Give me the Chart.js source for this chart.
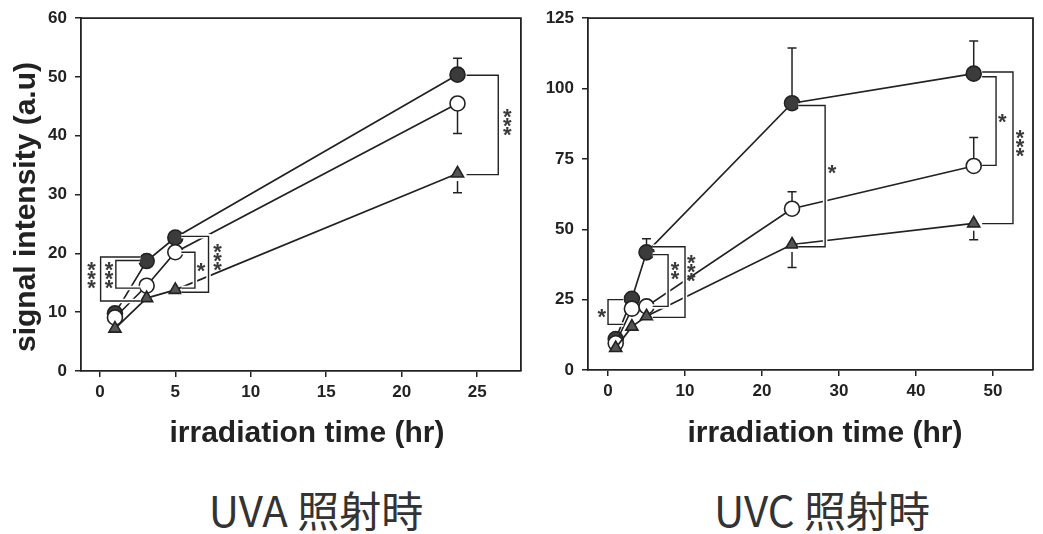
<!DOCTYPE html>
<html lang="ja">
<head>
<meta charset="UTF-8">
<title>signal intensity vs irradiation time</title>
<script src="https://cdn.jsdelivr.net/npm/chart.js"></script>
<style>
  body { margin:0; background:#fff; width:1043px; height:534px; position:relative; overflow:hidden; }
  .panel { position:absolute; top:0; height:460px; }
  #left { left:0; width:530px; }
  #right { left:530px; width:513px; }
  .caption { position:absolute; top:484px; width:300px; text-align:center;
    font-family:"Noto Sans CJK JP", sans-serif; font-size:42px; line-height:50px; color:#333; }
</style>
</head>
<body>
<div class="panel" id="left"><canvas id="uvaChart" width="530" height="460"></canvas></div>
<div class="panel" id="right"><canvas id="uvcChart" width="513" height="460"></canvas></div>
<div class="caption" style="left:166px">UVA 照射時</div>
<div class="caption" style="left:672px">UVC 照射時</div>

<script>
// ---- UVA panel ----
const uvaTime      = [1, 3.1, 5, 23.7];
const uvaFilled    = [9.8, 18.7, 22.7, 50.4];
const uvaOpen      = [9.1, 14.5, 20.2, 45.5];
const uvaTri       = [7.2, 12.4, 13.8, 33.6];
const uvaFilledErr = [null, null, null, 53.2];
const uvaOpenErr   = [null, null, null, 40.4];
const uvaTriErr    = [null, null, null, 30.3];
const uvaXTicks    = [0, 5, 10, 15, 20, 25];
const uvaYTicks    = [0, 10, 20, 30, 40, 50, 60];
// significance brackets: [x at points, x of vertical, y top, y bottom, stars, star x, star y]
const uvaBrackets = [
  [24.3, 26.4, 50.3, 33.4, '***', 27.0, 42.2],
  [5.4, 7.2, 22.9, 13.4, '***', 7.8, 19.3],
  [5.4, 6.3, 20.2, 14.1, '*', 6.7, 17.6],
  [2.7, 0.05, 19.4, 11.9, '***', -0.55, 16.3],
  [2.65, 1.06, 18.8, 14.1, '***', 0.6, 16.3]
];

// ---- UVC panel ----
const uvcTime      = [1, 3.1, 5, 23.9, 47.5];
const uvcFilled    = [11.0, 25.3, 41.8, 94.8, 105.3];
const uvcOpen      = [9.5, 21.8, 22.6, 57.3, 72.5];
const uvcTri       = [7.8, 15.4, 19.1, 44.6, 52.1];
const uvcFilledErr = [null, null, 46.6, 114.4, 116.9];
const uvcOpenErr   = [null, null, null, 63.3, 82.6];
const uvcTriErr    = [null, null, null, 36.4, 46.3];
const uvcXTicks    = [0, 10, 20, 30, 40, 50];
const uvcYTicks    = [0, 25, 50, 75, 100, 125];
const uvcBrackets = [
  [48.6, 50.4, 104.2, 72.7, '*', 51.2, 89.3],
  [48.6, 52.6, 105.9, 52.0, '***', 53.5, 80.5],
  [24.7, 28.2, 94.0, 43.8, '*', 29.1, 71.3],
  [5.8, 7.8, 41.0, 22.6, '**', 8.7, 35.0],
  [5.8, 10.0, 43.8, 18.7, '***', 10.8, 36.0],
  [2.0, 0.0, 25.0, 16.2, '*', -0.8, 20.0]
];

const xTitle = 'irradiation time (hr)';
const yTitle = 'signal intensity (a.u)';

const INK = '#222';
const R = 7.5;

// frame, error bars, brackets and titles
const annotPlugin = {
  id: 'annot',
  afterDatasetsDraw(chart, args, opts) {
    const ctx = chart.ctx, xs = chart.scales.x, ys = chart.scales.y, a = chart.chartArea;
    ctx.save();
    ctx.strokeStyle = INK;
    ctx.lineWidth = 1.8;
    ctx.beginPath();
    ctx.moveTo(a.left, a.top); ctx.lineTo(a.right, a.top); ctx.lineTo(a.right, a.bottom);
    ctx.stroke();

    // error bars (one-sided)
    ctx.lineWidth = 1.5;
    opts.errors.forEach(([vals, errs]) => {
      errs.forEach((e, i) => {
        if (e == null) return;
        const x = xs.getPixelForValue(opts.time[i]);
        const y = ys.getPixelForValue(vals[i]);
        const ye = ys.getPixelForValue(e);
        const dir = ye < y ? -1 : 1;
        ctx.beginPath();
        ctx.moveTo(x, y + dir * R); ctx.lineTo(x, ye);
        ctx.moveTo(x - 4.5, ye); ctx.lineTo(x + 4.5, ye);
        ctx.stroke();
      });
    });

    // brackets with white halo so data lines look broken where they cross
    opts.brackets.forEach(b => {
      const x0 = xs.getPixelForValue(b[0]), xv = xs.getPixelForValue(b[1]);
      const yt = ys.getPixelForValue(b[2]), yb = ys.getPixelForValue(b[3]);
      const path = () => {
        ctx.beginPath();
        ctx.moveTo(x0, yt); ctx.lineTo(xv, yt); ctx.lineTo(xv, yb); ctx.lineTo(x0, yb);
      };
      ctx.strokeStyle = '#fff'; ctx.lineWidth = 4.5; path(); ctx.stroke();
      ctx.strokeStyle = INK; ctx.lineWidth = 1.4; path(); ctx.stroke();
    });

    // stars, stacked vertically
    ctx.fillStyle = '#3a3a3a';
    ctx.font = 'bold 22px "Liberation Sans", Arial, sans-serif';
    ctx.textAlign = 'center';
    ctx.textBaseline = 'alphabetic';
    const m = ctx.measureText('*');
    const shift = (m.actualBoundingBoxAscent - m.actualBoundingBoxDescent) / 2;
    opts.brackets.forEach(b => {
      const n = b[4].length;
      const cx = xs.getPixelForValue(b[5]);
      const cy = ys.getPixelForValue(b[6]);
      for (let i = 0; i < n; i++) {
        ctx.fillText('*', cx, cy + (i - (n - 1) / 2) * 9 + shift);
      }
    });

    // axis titles
    ctx.fillStyle = INK;
    ctx.font = 'bold 30px "Liberation Sans", Arial, sans-serif';
    ctx.fillText(xTitle, opts.xTitlePos[0], opts.xTitlePos[1]);
    if (opts.yTitlePos) {
      ctx.translate(opts.yTitlePos[0], opts.yTitlePos[1]);
      ctx.rotate(-Math.PI / 2);
      ctx.textBaseline = 'middle';
      ctx.fillText(yTitle, 0, 0);
    }
    ctx.restore();
  }
};

function series(time, vals, style) {
  const base = {
    data: time.map((t, i) => ({ x: t, y: vals[i] })),
    showLine: true, tension: 0,
    borderColor: INK, borderWidth: 1.7,
    pointRadius: R, pointBorderWidth: 1.6, pointBorderColor: INK
  };
  if (style === 'filled') return Object.assign(base, { pointStyle: 'circle', pointBackgroundColor: '#3b3b3b' });
  if (style === 'open') return Object.assign(base, { pointStyle: 'circle', pointBackgroundColor: '#fff' });
  return Object.assign(base, { pointStyle: 'triangle', pointRadius: 7, pointBackgroundColor: '#555' });
}

function makeChart(id, p) {
  const tickFont = { family: '"Liberation Sans", Arial, sans-serif', weight: 'bold', size: 17 };
  return new Chart(document.getElementById(id), {
    type: 'scatter',
    data: {
      // drawn last-to-first: filled, open, triangle on top
      datasets: [
        series(p.time, p.tri, 'tri'),
        series(p.time, p.open, 'open'),
        series(p.time, p.filled, 'filled')
      ]
    },
    options: {
      responsive: false,
      animation: false,
      devicePixelRatio: 1,
      layout: { padding: p.padding },
      plugins: {
        legend: { display: false },
        tooltip: { enabled: false },
        annot: {
          time: p.time,
          errors: [[p.filled, p.filledErr], [p.open, p.openErr], [p.tri, p.triErr]],
          brackets: p.brackets,
          xTitlePos: p.xTitlePos,
          yTitlePos: p.yTitlePos
        }
      },
      scales: {
        x: {
          type: 'linear', min: p.xMin, max: p.xMax,
          afterBuildTicks: s => { s.ticks = p.xTicks.map(v => ({ value: v })); },
          afterFit: s => { s.height = p.xAxisH; },
          grid: { drawOnChartArea: false, drawTicks: true, tickLength: 6, color: INK, lineWidth: 1.5 },
          border: { display: true, color: INK, width: 1.8 },
          ticks: { font: tickFont, color: INK, padding: 5 }
        },
        y: {
          type: 'linear', min: 0, max: p.yMax,
          afterBuildTicks: s => { s.ticks = p.yTicks.map(v => ({ value: v })); },
          afterFit: s => { s.width = p.yAxisW; },
          grid: { drawOnChartArea: false, drawTicks: true, tickLength: 6, color: INK, lineWidth: 1.5 },
          border: { display: true, color: INK, width: 1.8 },
          ticks: { font: tickFont, color: INK, padding: 8 }
        }
      }
    },
    plugins: [annotPlugin]
  });
}

makeChart('uvaChart', {
  time: uvaTime, filled: uvaFilled, open: uvaOpen, tri: uvaTri,
  filledErr: uvaFilledErr, openErr: uvaOpenErr, triErr: uvaTriErr,
  brackets: uvaBrackets, xTicks: uvaXTicks, yTicks: uvaYTicks,
  xMin: -1.25, xMax: 27.9, yMax: 60,
  padding: { top: 17, right: 9, left: 0, bottom: 0 },
  yAxisW: 81, xAxisH: 89,
  xTitlePos: [307, 442], yTitlePos: [27, 207]
});

makeChart('uvcChart', {
  time: uvcTime, filled: uvcFilled, open: uvcOpen, tri: uvcTri,
  filledErr: uvcFilledErr, openErr: uvcOpenErr, triErr: uvcTriErr,
  brackets: uvcBrackets, xTicks: uvcXTicks, yTicks: uvcYTicks,
  xMin: -2.6, xMax: 55.2, yMax: 125,
  padding: { top: 16, right: 10, left: 0, bottom: 0 },
  yAxisW: 58, xAxisH: 90,
  xTitlePos: [295, 442], yTitlePos: null
});
</script>
</body>
</html>
